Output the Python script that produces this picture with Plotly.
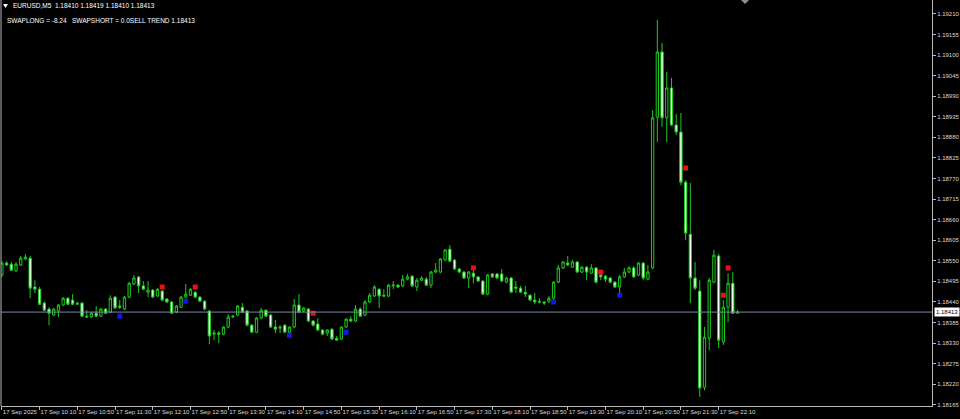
import pandas as pd
import plotly.graph_objects as go

# ---- EURUSD M5 bars, 17 Sep 2025, 09:30 -> 22:30 ----
opens = [1.18512, 1.18544, 1.18541, 1.18523, 1.18539, 1.18555, 1.18557, 1.18480, 1.18474, 1.18437,
         1.18421, 1.18405, 1.18416, 1.18432, 1.18450, 1.18445, 1.18434, 1.18437, 1.18402, 1.18400,
         1.18410, 1.18402, 1.18421, 1.18413, 1.18453, 1.18429, 1.18421, 1.18453, 1.18488, 1.18507,
         1.18483, 1.18466, 1.18472, 1.18456, 1.18469, 1.18448, 1.18440, 1.18413, 1.18426, 1.18453,
         1.18458, 1.18466, 1.18453, 1.18442, 1.18416, 1.18354, 1.18357, 1.18354, 1.18373, 1.18400,
         1.18405, 1.18426, 1.18416, 1.18378, 1.18359, 1.18397, 1.18418, 1.18405, 1.18373, 1.18370,
         1.18378, 1.18359, 1.18373, 1.18432, 1.18416, 1.18421, 1.18389, 1.18381, 1.18365, 1.18357,
         1.18367, 1.18343, 1.18341, 1.18373, 1.18394, 1.18389, 1.18421, 1.18405, 1.18440, 1.18456,
         1.18474, 1.18458, 1.18456, 1.18483, 1.18485, 1.18483, 1.18501, 1.18509, 1.18480, 1.18498,
         1.18501, 1.18485, 1.18520, 1.18520, 1.18552, 1.18581, 1.18552, 1.18528, 1.18520, 1.18504,
         1.18517, 1.18507, 1.18496, 1.18461, 1.18515, 1.18515, 1.18515, 1.18493, 1.18504, 1.18480,
         1.18477, 1.18466, 1.18458, 1.18445, 1.18442, 1.18440, 1.18442, 1.18450, 1.18493, 1.18531,
         1.18544, 1.18533, 1.18547, 1.18520, 1.18533, 1.18517, 1.18531, 1.18512, 1.18509, 1.18504,
         1.18493, 1.18480, 1.18507, 1.18520, 1.18531, 1.18512, 1.18544, 1.18501, 1.18531, 1.18934,
         1.19108, 1.18932, 1.19012, 1.18913, 1.18894, 1.18760, 1.18621, 1.18504, 1.18469, 1.18212,
         1.18343, 1.18493, 1.18563, 1.18333, 1.18426, 1.18490, 1.18410]

highs = [1.18549, 1.18549, 1.18547, 1.18547, 1.18563, 1.18568, 1.18563, 1.18498, 1.18480, 1.18442,
         1.18426, 1.18424, 1.18434, 1.18453, 1.18453, 1.18461, 1.18440, 1.18440, 1.18418, 1.18413,
         1.18429, 1.18424, 1.18424, 1.18458, 1.18456, 1.18445, 1.18456, 1.18493, 1.18512, 1.18509,
         1.18496, 1.18496, 1.18474, 1.18477, 1.18472, 1.18450, 1.18442, 1.18432, 1.18456, 1.18488,
         1.18477, 1.18469, 1.18456, 1.18445, 1.18418, 1.18365, 1.18362, 1.18375, 1.18408, 1.18405,
         1.18432, 1.18437, 1.18418, 1.18381, 1.18400, 1.18424, 1.18421, 1.18408, 1.18392, 1.18378,
         1.18381, 1.18375, 1.18448, 1.18461, 1.18426, 1.18424, 1.18392, 1.18397, 1.18367, 1.18367,
         1.18370, 1.18349, 1.18375, 1.18397, 1.18402, 1.18432, 1.18426, 1.18445, 1.18464, 1.18485,
         1.18477, 1.18474, 1.18488, 1.18496, 1.18488, 1.18512, 1.18515, 1.18512, 1.18504, 1.18509,
         1.18507, 1.18523, 1.18544, 1.18557, 1.18581, 1.18592, 1.18555, 1.18531, 1.18523, 1.18523,
         1.18525, 1.18509, 1.18498, 1.18515, 1.18517, 1.18517, 1.18528, 1.18507, 1.18507, 1.18496,
         1.18483, 1.18483, 1.18461, 1.18464, 1.18450, 1.18442, 1.18456, 1.18496, 1.18539, 1.18549,
         1.18563, 1.18552, 1.18549, 1.18536, 1.18536, 1.18541, 1.18533, 1.18517, 1.18512, 1.18507,
         1.18496, 1.18512, 1.18531, 1.18536, 1.18536, 1.18547, 1.18547, 1.18539, 1.18953, 1.19194,
         1.19132, 1.19055, 1.19039, 1.18942, 1.18945, 1.18766, 1.18758, 1.18547, 1.18498, 1.18373,
         1.18504, 1.18579, 1.18568, 1.18445, 1.18517, 1.18520, 1.18419]

lows = [1.18507, 1.18536, 1.18523, 1.18520, 1.18536, 1.18552, 1.18450, 1.18464, 1.18432, 1.18416,
        1.18378, 1.18402, 1.18400, 1.18429, 1.18432, 1.18432, 1.18432, 1.18400, 1.18397, 1.18397,
        1.18400, 1.18400, 1.18408, 1.18410, 1.18421, 1.18421, 1.18418, 1.18450, 1.18485, 1.18464,
        1.18472, 1.18453, 1.18450, 1.18453, 1.18442, 1.18437, 1.18408, 1.18410, 1.18424, 1.18450,
        1.18456, 1.18450, 1.18440, 1.18418, 1.18327, 1.18338, 1.18330, 1.18351, 1.18370, 1.18397,
        1.18402, 1.18410, 1.18375, 1.18357, 1.18357, 1.18394, 1.18400, 1.18370, 1.18357, 1.18357,
        1.18357, 1.18357, 1.18370, 1.18410, 1.18413, 1.18386, 1.18375, 1.18362, 1.18351, 1.18349,
        1.18338, 1.18338, 1.18338, 1.18370, 1.18386, 1.18386, 1.18400, 1.18402, 1.18437, 1.18453,
        1.18424, 1.18453, 1.18453, 1.18474, 1.18477, 1.18480, 1.18498, 1.18480, 1.18469, 1.18496,
        1.18483, 1.18477, 1.18517, 1.18517, 1.18549, 1.18547, 1.18525, 1.18517, 1.18501, 1.18477,
        1.18490, 1.18493, 1.18458, 1.18458, 1.18504, 1.18501, 1.18493, 1.18490, 1.18464, 1.18464,
        1.18464, 1.18453, 1.18442, 1.18434, 1.18437, 1.18432, 1.18437, 1.18445, 1.18490, 1.18528,
        1.18536, 1.18531, 1.18517, 1.18517, 1.18498, 1.18515, 1.18490, 1.18498, 1.18493, 1.18490,
        1.18477, 1.18464, 1.18504, 1.18517, 1.18504, 1.18509, 1.18498, 1.18498, 1.18528, 1.18867,
        1.18908, 1.18867, 1.18910, 1.18886, 1.18752, 1.18605, 1.18437, 1.18472, 1.18186, 1.18204,
        1.18311, 1.18490, 1.18317, 1.18325, 1.18386, 1.18408, 1.18410]

closes = [1.18544, 1.18539, 1.18525, 1.18541, 1.18557, 1.18560, 1.18477, 1.18474, 1.18434, 1.18418,
          1.18410, 1.18421, 1.18432, 1.18450, 1.18434, 1.18434, 1.18437, 1.18402, 1.18400, 1.18410,
          1.18402, 1.18421, 1.18410, 1.18450, 1.18424, 1.18426, 1.18453, 1.18490, 1.18504, 1.18483,
          1.18474, 1.18472, 1.18453, 1.18474, 1.18445, 1.18440, 1.18410, 1.18429, 1.18453, 1.18461,
          1.18474, 1.18453, 1.18442, 1.18421, 1.18349, 1.18357, 1.18354, 1.18373, 1.18400, 1.18402,
          1.18429, 1.18413, 1.18378, 1.18359, 1.18397, 1.18418, 1.18402, 1.18373, 1.18367, 1.18373,
          1.18359, 1.18373, 1.18432, 1.18413, 1.18424, 1.18389, 1.18378, 1.18365, 1.18354, 1.18365,
          1.18341, 1.18338, 1.18373, 1.18394, 1.18389, 1.18421, 1.18402, 1.18440, 1.18458, 1.18480,
          1.18456, 1.18456, 1.18485, 1.18485, 1.18480, 1.18501, 1.18507, 1.18483, 1.18498, 1.18504,
          1.18485, 1.18520, 1.18525, 1.18555, 1.18579, 1.18549, 1.18528, 1.18520, 1.18504, 1.18520,
          1.18507, 1.18496, 1.18461, 1.18512, 1.18507, 1.18504, 1.18496, 1.18504, 1.18466, 1.18477,
          1.18466, 1.18461, 1.18445, 1.18440, 1.18440, 1.18437, 1.18450, 1.18493, 1.18531, 1.18547,
          1.18539, 1.18547, 1.18520, 1.18533, 1.18520, 1.18531, 1.18493, 1.18507, 1.18501, 1.18493,
          1.18480, 1.18507, 1.18520, 1.18531, 1.18507, 1.18544, 1.18504, 1.18520, 1.18932, 1.19108,
          1.18932, 1.19012, 1.18913, 1.18894, 1.18760, 1.18624, 1.18504, 1.18477, 1.18210, 1.18346,
          1.18498, 1.18565, 1.18338, 1.18426, 1.18490, 1.18410, 1.18413]

# signal arrows
buy_times = ["2025-09-17 11:35", "2025-09-17 12:45", "2025-09-17 14:35",
             "2025-09-17 15:35", "2025-09-17 19:15", "2025-09-17 20:25"]
buy_prices = [1.18402, 1.18442, 1.18351, 1.18359, 1.18440, 1.18458]
sell_times = ["2025-09-17 12:20", "2025-09-17 12:55", "2025-09-17 15:00", "2025-09-17 17:50",
              "2025-09-17 20:05", "2025-09-17 21:35", "2025-09-17 22:15", "2025-09-17 22:20"]
sell_prices = [1.18480, 1.18480, 1.18410, 1.18531, 1.18520, 1.18798, 1.18458, 1.18531]

# axis ticks
x_tick_times = ["2025-09-17 09:30", "2025-09-17 10:10", "2025-09-17 10:50", "2025-09-17 11:30",
                "2025-09-17 12:10", "2025-09-17 12:50", "2025-09-17 13:30", "2025-09-17 14:10",
                "2025-09-17 14:50", "2025-09-17 15:30", "2025-09-17 16:10", "2025-09-17 16:50",
                "2025-09-17 17:30", "2025-09-17 18:10", "2025-09-17 18:50", "2025-09-17 19:30",
                "2025-09-17 20:10", "2025-09-17 20:50", "2025-09-17 21:30", "2025-09-17 22:10"]
x_tick_labels = ["17 Sep 2025", "17 Sep 10:10", "17 Sep 10:50", "17 Sep 11:30", "17 Sep 12:10",
                 "17 Sep 12:50", "17 Sep 13:30", "17 Sep 14:10", "17 Sep 14:50", "17 Sep 15:30",
                 "17 Sep 16:10", "17 Sep 16:50", "17 Sep 17:30", "17 Sep 18:10", "17 Sep 18:50",
                 "17 Sep 19:30", "17 Sep 20:10", "17 Sep 20:50", "17 Sep 21:30", "17 Sep 22:10"]
y_tick_values = [1.18165, 1.18220, 1.18275, 1.18330, 1.18385, 1.18440, 1.18495, 1.18550,
                 1.18605, 1.18660, 1.18715, 1.18770, 1.18825, 1.18880, 1.18935, 1.18990,
                 1.19045, 1.19100, 1.19155, 1.19210]
bid_price = 1.18413

header1 = "EURUSD,M5  1.18410 1.18419 1.18410 1.18413"
header2 = "SWAPLONG = -8.24   SWAPSHORT = 0.0SELL TREND 1.18413"

GREEN = "#1CCC1C"
FONT = "Liberation Sans"
TXT = "#D8D8D8"
AXC = "#B8B8B8"

times = pd.date_range("2025-09-17 09:30", periods=len(opens), freq="5min")

fig = go.Figure()
fig.add_trace(go.Candlestick(
    x=times, open=opens, high=highs, low=lows, close=closes,
    increasing=dict(line=dict(color=GREEN, width=1), fillcolor="#000000"),
    decreasing=dict(line=dict(color=GREEN, width=1), fillcolor="#FFFFFF"),
    whiskerwidth=0, showlegend=False, hoverinfo="skip"))
fig.add_trace(go.Scatter(x=buy_times, y=buy_prices, mode="markers", showlegend=False,
                         marker=dict(symbol="square", size=5, color="#1414F0"), hoverinfo="skip"))
fig.add_trace(go.Scatter(x=sell_times, y=sell_prices, mode="markers", showlegend=False,
                         marker=dict(symbol="square", size=5, color="#E81010"), hoverinfo="skip"))

W, H = 960, 419
ML, MR, MT, MB = 1, 28, 0, 13
PW, PH = W - ML - MR, H - MT - MB

def px(x):
    return (x - ML) / PW

def py(y):
    return 1 - (y - MT) / PH

fig.update_layout(
    width=W, height=H,
    margin=dict(l=ML, r=MR, t=MT, b=MB, pad=0),
    paper_bgcolor="#000000", plot_bgcolor="#000000",
    font=dict(family=FONT, size=6, color=TXT),
    showlegend=False,
    xaxis=dict(
        type="date",
        range=["2025-09-17 09:29:05", "2025-09-18 01:56:14"],
        rangeslider=dict(visible=False),
        tickvals=x_tick_times, ticktext=x_tick_labels,
        tickangle=0,
        ticklabelposition="outside right",
        tickfont=dict(family=FONT, size=6, color=TXT),
        ticks="outside", ticklen=3, tickcolor=AXC,
        showline=True, linecolor=AXC, linewidth=1,
        showgrid=False, zeroline=False, fixedrange=True, automargin=False,
    ),
    yaxis=dict(
        side="right",
        range=[1.18162, 1.19247],
        tickvals=y_tick_values,
        ticktext=[f"{v:.5f}" for v in y_tick_values],
        tickfont=dict(family=FONT, size=6, color=TXT),
        ticks="outside", ticklen=3, tickcolor=AXC,
        showline=True, linecolor=AXC, linewidth=1,
        showgrid=False, zeroline=False, fixedrange=True, automargin=False,
    ),
)

# bid line
fig.add_shape(type="line", xref="paper", yref="y", x0=0, x1=1, y0=bid_price, y1=bid_price,
              line=dict(color="#7B8AA6", width=1))
# left border
fig.add_shape(type="line", xref="paper", yref="paper", x0=0, x1=0, y0=0, y1=1,
              line=dict(color=AXC, width=1))
# chart shift marker
fig.add_shape(type="path", xref="paper", yref="paper",
              path=f"M {px(741)} {py(0)} L {px(749)} {py(0)} L {px(745)} {py(4)} Z",
              fillcolor="#909090", line=dict(width=0))
# header triangle
fig.add_shape(type="path", xref="paper", yref="paper",
              path=f"M {px(3)} {py(4)} L {px(8)} {py(4)} L {px(5.5)} {py(8)} Z",
              fillcolor="#FFFFFF", line=dict(width=0))

fig.add_annotation(xref="paper", yref="paper", x=px(11), y=py(6), xanchor="left", yanchor="middle",
                   text=header1, showarrow=False, font=dict(family=FONT, size=6.5, color="#FFFFFF"))
fig.add_annotation(xref="paper", yref="paper", x=px(5), y=py(20), xanchor="left", yanchor="middle",
                   text=header2, showarrow=False, font=dict(family=FONT, size=6.5, color="#FFFFFF"))
# bid price label
fig.add_annotation(xref="paper", yref="y", x=1, y=bid_price, xanchor="left", yanchor="middle",
                   xshift=2, text=f"{bid_price:.5f}", showarrow=False, bgcolor="#FFFFFF",
                   borderpad=1, font=dict(family=FONT, size=6, color="#000000"))

fig.write_html("out.html", config={"displayModeBar": False},
               post_script="document.body.style.margin='0';document.body.style.background='#000';")
